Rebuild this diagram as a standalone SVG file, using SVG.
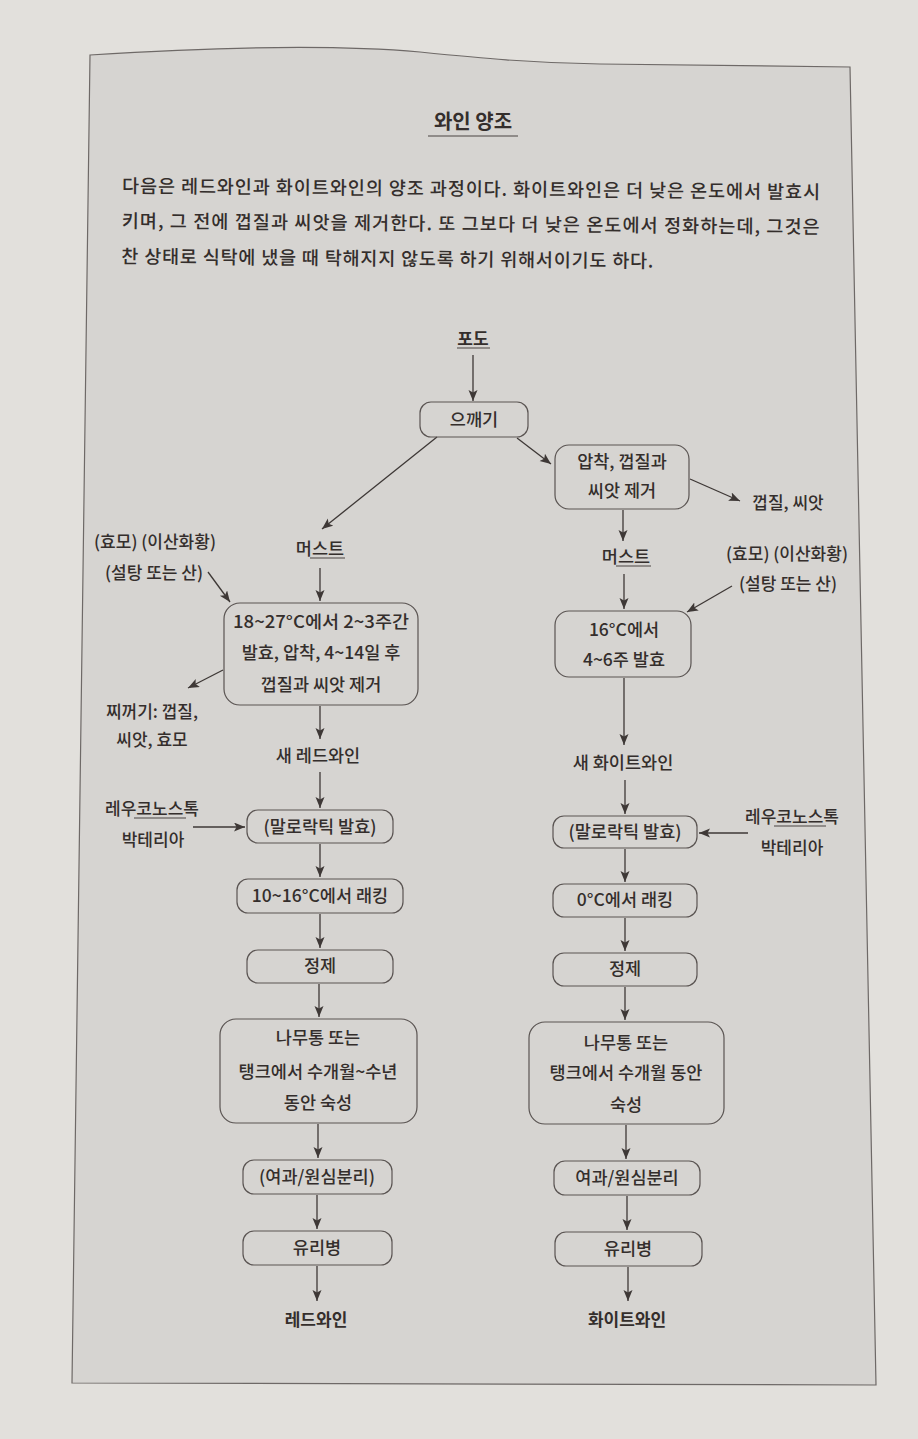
<svg xmlns="http://www.w3.org/2000/svg" width="918" height="1439" viewBox="0 0 918 1439">
<defs>
<marker id="ah" markerUnits="userSpaceOnUse" markerWidth="12" markerHeight="10" refX="11" refY="4.5" orient="auto">
<path d="M0,0 L11,4.5 L0,9 L2.5,4.5 Z" fill="#3e3836"/>
</marker>
<style>
text{font-family:"Noto Sans CJK KR","Noto Sans",sans-serif;fill:#342e2c;font-weight:500;}
.t{font-size:17.5px;text-anchor:middle;}
.l{font-size:17px;text-anchor:middle;}
.b{font-size:17px;font-weight:700;text-anchor:middle;}
.p{font-size:18.5px;}
.box{fill:none;stroke:#5a5452;stroke-width:1.2;}
.c line,.c path{stroke:#3e3836;stroke-width:1.3;fill:none;marker-end:url(#ah);}
.u{stroke:#4a4442;stroke-width:1;}
</style>
</defs>
<rect x="0" y="0" width="918" height="1439" fill="#e2e0dc"/>
<path d="M90,55 C200,48 330,44 420,52 C480,58 530,63 600,64 L850,67 L876,1385 L72,1383 Z" fill="#d6d4d1" stroke="#6e6967" stroke-width="1.2"/>

<g id="title">
<text x="473" y="129" style="font-size:20px;font-weight:700;text-anchor:middle;">와인 양조</text>
<line x1="428" y1="136" x2="518" y2="136" class="u"/>
</g>
<g id="intro" transform="rotate(0.5 122 190)">
<text class="p" x="122" y="192.5" textLength="698" lengthAdjust="spacing">다음은 레드와인과 화이트와인의 양조 과정이다. 화이트와인은 더 낮은 온도에서 발효시</text>
<text class="p" x="122" y="227.5" textLength="698" lengthAdjust="spacing">키며, 그 전에 껍질과 씨앗을 제거한다. 또 그보다 더 낮은 온도에서 정화하는데, 그것은</text>
<text class="p" x="122" y="263" textLength="532" lengthAdjust="spacing">찬 상태로 식탁에 냈을 때 탁해지지 않도록 하기 위해서이기도 하다.</text>
</g>

<g class="c" id="connectors">
<line x1="473" y1="355" x2="473" y2="401"/>
<line x1="437" y1="437" x2="322" y2="529"/>
<line x1="517" y1="438" x2="551" y2="464"/>
<line x1="690" y1="479" x2="740" y2="501"/>
<line x1="623" y1="510" x2="623" y2="541"/>
<line x1="208" y1="572" x2="230" y2="602"/>
<line x1="320" y1="568" x2="320" y2="601"/>
<line x1="223" y1="670" x2="188" y2="688"/>
<line x1="320" y1="706" x2="320" y2="739"/>
<line x1="320" y1="772" x2="320" y2="808"/>
<line x1="193" y1="827" x2="245" y2="827"/>
<line x1="320" y1="844" x2="320" y2="877"/>
<line x1="320" y1="914" x2="320" y2="948"/>
<line x1="319" y1="984" x2="319" y2="1017"/>
<line x1="318" y1="1124" x2="318" y2="1158"/>
<line x1="317" y1="1195" x2="317" y2="1229"/>
<line x1="317" y1="1266" x2="317" y2="1301"/>
<line x1="624" y1="574" x2="624" y2="609"/>
<line x1="732" y1="586" x2="687" y2="612"/>
<line x1="624" y1="678" x2="624" y2="745"/>
<line x1="625" y1="780" x2="625" y2="814"/>
<line x1="748" y1="833" x2="699" y2="833"/>
<line x1="625" y1="849" x2="625" y2="882"/>
<line x1="625" y1="918" x2="625" y2="951"/>
<line x1="625" y1="987" x2="625" y2="1020"/>
<line x1="626" y1="1125" x2="626" y2="1159"/>
<line x1="627" y1="1196" x2="627" y2="1230"/>
<line x1="628" y1="1267" x2="628" y2="1301"/>
</g>

<g id="grape"><text class="b" x="473" y="345">포도</text><line x1="457" y1="348" x2="490" y2="348" class="u"/></g>
<g id="crush"><rect class="box" x="420" y="402" width="108" height="35" rx="11"/><text class="t" x="474" y="426">으깨기</text></g>

<g id="must-red"><text class="t" x="320" y="555">머스트</text><line x1="310" y1="558" x2="345" y2="558" class="u"/></g>
<g id="ferment-red"><rect class="box" x="224" y="603" width="194" height="102" rx="16"/>
<text class="t" x="321" y="628" textLength="176" lengthAdjust="spacingAndGlyphs">18~27°C에서 2~3주간</text>
<text class="t" x="321" y="659">발효, 압착, 4~14일 후</text>
<text class="t" x="321" y="691">껍질과 씨앗 제거</text></g>
<g id="additives-red"><text class="l" x="155" y="548">(효모) (이산화황)</text><text class="l" x="154" y="579">(설탕 또는 산)</text></g>
<g id="waste-red"><text class="l" x="152" y="718">찌꺼기: 껍질,</text><text class="l" x="152" y="746">씨앗, 효모</text></g>
<g id="new-red"><text class="t" x="318" y="762">새 레드와인</text></g>
<g id="malo-red"><rect class="box" x="247" y="810" width="146" height="33" rx="11"/><text class="t" x="320" y="833">(말로락틱 발효)</text></g>
<g id="leuco-red"><text class="l" x="152" y="815">레우코노스톡</text><line x1="134" y1="818" x2="186" y2="818" class="u"/><text class="l" x="153" y="846">박테리아</text></g>
<g id="rack-red"><rect class="box" x="237" y="879" width="166" height="34" rx="11"/><text class="t" x="320" y="902">10~16°C에서 래킹</text></g>
<g id="fine-red"><rect class="box" x="247" y="950" width="146" height="33" rx="11"/><text class="t" x="320" y="972">정제</text></g>
<g id="age-red"><rect class="box" x="220" y="1019" width="197" height="104" rx="16"/>
<text class="t" x="318" y="1044">나무통 또는</text>
<text class="t" x="318" y="1078">탱크에서 수개월~수년</text>
<text class="t" x="318" y="1109">동안 숙성</text></g>
<g id="filter-red"><rect class="box" x="243" y="1160" width="149" height="34" rx="11"/><text class="t" x="317" y="1183">(여과/원심분리)</text></g>
<g id="bottle-red"><rect class="box" x="243" y="1231" width="149" height="34" rx="11"/><text class="t" x="317" y="1254">유리병</text></g>
<g id="red-wine"><text class="b" x="316" y="1326">레드와인</text></g>

<g id="press-white"><rect class="box" x="555" y="445" width="134" height="64" rx="14"/>
<text class="t" x="622" y="468">압착, 껍질과</text>
<text class="t" x="622" y="497">씨앗 제거</text></g>
<g id="skins-white"><text class="l" x="788" y="509">껍질, 씨앗</text></g>
<g id="must-white"><text class="t" x="626" y="563">머스트</text><line x1="616" y1="566" x2="651" y2="566" class="u"/></g>
<g id="additives-white"><text class="l" x="787" y="560">(효모) (이산화황)</text><text class="l" x="788" y="590">(설탕 또는 산)</text></g>
<g id="ferment-white"><rect class="box" x="555" y="611" width="136" height="66" rx="14"/>
<text class="t" x="624" y="636">16°C에서</text>
<text class="t" x="624" y="666">4~6주 발효</text></g>
<g id="new-white"><text class="t" x="623" y="769">새 화이트와인</text></g>
<g id="malo-white"><rect class="box" x="553" y="816" width="144" height="32" rx="11"/><text class="t" x="625" y="838">(말로락틱 발효)</text></g>
<g id="leuco-white"><text class="l" x="792" y="823">레우코노스톡</text><line x1="774" y1="826" x2="826" y2="826" class="u"/><text class="l" x="792" y="854">박테리아</text></g>
<g id="rack-white"><rect class="box" x="553" y="884" width="144" height="33" rx="11"/><text class="t" x="625" y="906">0°C에서 래킹</text></g>
<g id="fine-white"><rect class="box" x="553" y="953" width="144" height="33" rx="11"/><text class="t" x="625" y="975">정제</text></g>
<g id="age-white"><rect class="box" x="529" y="1022" width="195" height="102" rx="16"/>
<text class="t" x="626" y="1049">나무통 또는</text>
<text class="t" x="626" y="1079">탱크에서 수개월 동안</text>
<text class="t" x="626" y="1111">숙성</text></g>
<g id="filter-white"><rect class="box" x="554" y="1161" width="146" height="34" rx="11"/><text class="t" x="627" y="1184">여과/원심분리</text></g>
<g id="bottle-white"><rect class="box" x="555" y="1232" width="147" height="34" rx="11"/><text class="t" x="628" y="1255">유리병</text></g>
<g id="white-wine"><text class="b" x="627" y="1326">화이트와인</text></g>
</svg>
